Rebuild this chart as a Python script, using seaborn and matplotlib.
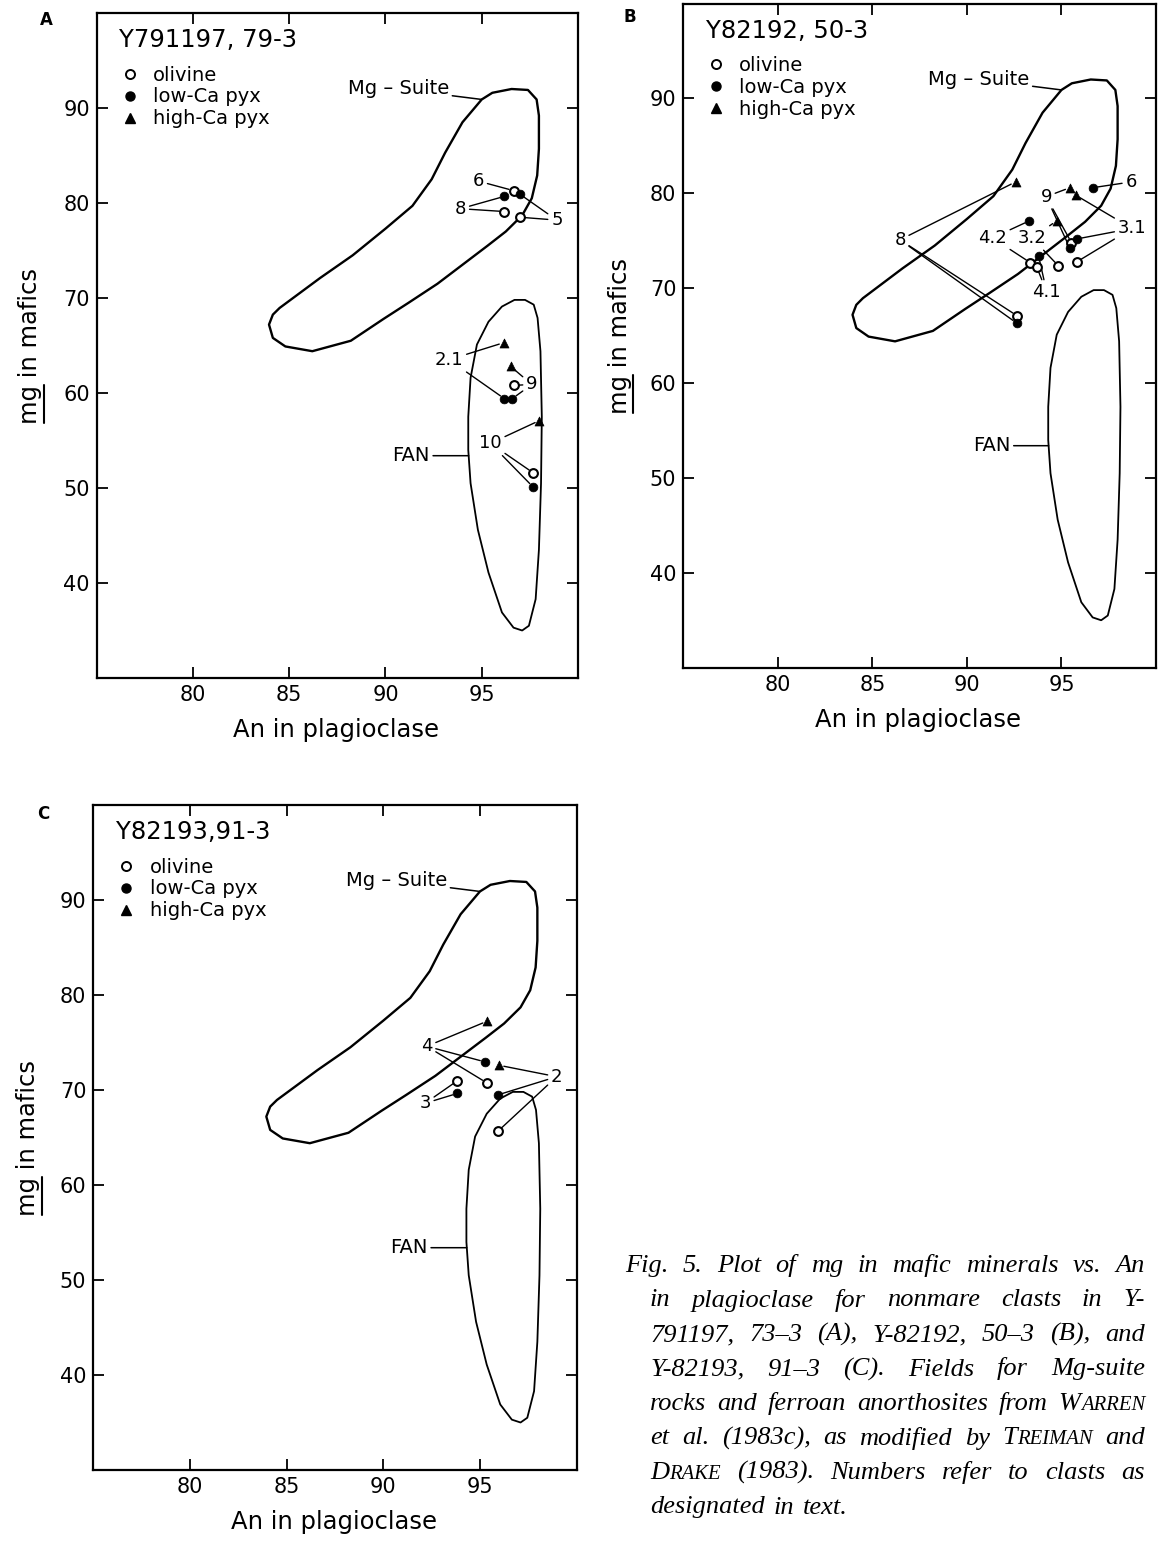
import numpy as np
import pandas as pd
import matplotlib
matplotlib.use("Agg")
import matplotlib.pyplot as plt
import seaborn as sns
from matplotlib.lines import Line2D
from matplotlib.patches import Polygon

# ------------------------------------------------------------------ data
X_TICKS = [80, 85, 90, 95]
Y_TICKS = [40, 50, 60, 70, 80, 90]
MINERALS = ["olivine", "low-Ca pyx", "high-Ca pyx"]

# field outlines (An, mg)
MG_SUITE_AN = [83.95, 84.15, 84.5, 85.6, 86.6, 88.3, 90.0, 91.4, 92.4, 93.1, 94.0, 95.0,
               95.55, 96.55, 97.4, 97.85, 97.97, 97.97, 97.88, 97.6, 97.1, 96.25, 95.3,
               94.0, 92.7, 91.2, 89.9, 88.2, 86.2, 84.8, 84.15]
MG_SUITE_MG = [67.2, 68.25, 68.95, 70.6, 72.1, 74.5, 77.3, 79.7, 82.5, 85.3, 88.5, 90.9,
               91.6, 92.0, 91.9, 90.9, 89.2, 85.7, 82.9, 80.5, 78.7, 77.0, 75.5,
               73.5, 71.5, 69.5, 67.8, 65.5, 64.4, 64.9, 65.8]
FAN_AN = [96.7, 97.25, 97.7, 97.9, 98.05, 98.12, 98.08, 97.97, 97.8, 97.45, 97.1, 96.65,
          96.05, 95.35, 94.8, 94.42, 94.3, 94.3, 94.42, 94.75, 95.35, 96.05]
FAN_MG = [69.8, 69.8, 69.3, 67.9, 64.4, 57.5, 50.5, 43.5, 38.3, 35.5, 35.0, 35.3,
          36.9, 41.1, 45.6, 50.5, 54.0, 57.5, 61.6, 65.1, 67.5, 69.1]

# Panel A  Y791197, 79-3
A_MINERAL = ["olivine", "low-Ca pyx", "low-Ca pyx", "olivine", "olivine",
             "high-Ca pyx", "low-Ca pyx", "high-Ca pyx", "olivine", "low-Ca pyx",
             "high-Ca pyx", "olivine", "low-Ca pyx"]
A_AN = [96.66, 96.18, 97.0, 96.18, 97.0, 96.15, 96.18, 96.5, 96.66, 96.58, 98.0, 97.67, 97.67]
A_MG = [81.3, 80.7, 80.9, 79.1, 78.5, 65.3, 59.4, 62.8, 60.8, 59.4, 57.1, 51.6, 50.1]
A_CLAST = ["6", "8", "5", "8", "5", "2.1", "2.1", "9", "9", "9", "10", "10", "10"]
A_LABELS = ["6", "8", "5", "2.1", "9", "10"]
A_LABEL_AN = [94.83, 93.9, 98.9, 93.3, 97.6, 95.45]
A_LABEL_MG = [82.3, 79.4, 78.2, 63.5, 60.9, 54.7]

# Panel B  Y82192, 50-3
B_MINERAL = ["high-Ca pyx", "olivine", "low-Ca pyx",
             "high-Ca pyx", "olivine", "low-Ca pyx",
             "low-Ca pyx",
             "high-Ca pyx", "low-Ca pyx", "olivine",
             "low-Ca pyx", "olivine",
             "high-Ca pyx", "olivine",
             "low-Ca pyx", "olivine"]
B_AN = [92.57, 92.65, 92.65, 95.45, 95.53, 95.45, 96.67, 95.76, 95.83, 95.83,
        93.3, 93.35, 94.75, 94.84, 93.79, 93.7]
B_MG = [81.2, 67.1, 66.3, 80.6, 74.8, 74.2, 80.6, 79.8, 75.2, 72.8,
        77.1, 72.7, 77.1, 72.35, 73.4, 72.2]
B_CLAST = ["8", "8", "8", "9", "9", "9", "6", "3.1", "3.1", "3.1",
           "4.2", "4.2", "3.2", "3.2", "4.1", "4.1"]
B_LABELS = ["8", "9", "6", "3.1", "4.2", "3.2", "4.1"]
B_LABEL_AN = [86.46, 94.19, 98.68, 98.73, 91.35, 93.44, 94.22]
B_LABEL_MG = [75.1, 79.65, 81.2, 76.3, 75.3, 75.3, 69.6]

# Panel C  Y82193, 91-3
C_MINERAL = ["high-Ca pyx", "low-Ca pyx", "olivine", "olivine", "low-Ca pyx",
             "high-Ca pyx", "low-Ca pyx", "olivine"]
C_AN = [95.38, 95.26, 95.35, 93.83, 93.83, 95.99, 95.92, 95.92]
C_MG = [77.25, 72.96, 70.76, 70.97, 69.64, 72.6, 69.48, 65.64]
C_CLAST = ["4", "4", "4", "3", "3", "2", "2", "2"]
C_LABELS = ["4", "3", "2"]
C_LABEL_AN = [92.25, 92.16, 98.97]
C_LABEL_MG = [74.6, 68.6, 71.4]

TITLES = ["Y791197, 79-3", "Y82192, 50-3", "Y82193,91-3"]
LETTERS = ["A", "B", "C"]

CAPTION = [
    "Fig. 5. Plot of mg in mafic minerals vs. An",
    "in plagioclase for nonmare clasts in Y-",
    "791197, 73\u20133 (A), Y-82192, 50\u20133 (B), and",
    "Y-82193, 91\u20133 (C). Fields for Mg-suite",
    "rocks and ferroan anorthosites from ^WARREN",
    "et al. (1983c), as modified by ^TREIMAN and",
    "^DRAKE (1983). Numbers refer to clasts as",
    "designated in text.",
]

# ------------------------------------------------------------------ style
sns.set_style("ticks", {"text.color": "black", "axes.labelcolor": "black",
                        "xtick.color": "black", "ytick.color": "black",
                        "axes.edgecolor": "black"})
plt.rcParams["font.family"] = ["DejaVu Sans"]
plt.rcParams["text.color"] = "black"
W, H = 1158, 1545
fig = plt.figure(figsize=(W / 100, H / 100), dpi=100)

# axes boxes in pixels: left, top, right, bottom
BOXES = [(96.7, 13.0, 578.0, 678.0),
         (683.3, 3.6, 1156.0, 667.7),
         (93.3, 805.0, 576.6, 1470.0)]
YLAB_X = [42.0, 632.0, 40.0]
LETTER_POS = [(46.7, 20.0), (630.0, 17.0), (43.0, 814.0)]

panels = [
    (A_MINERAL, A_AN, A_MG, A_CLAST, A_LABELS, A_LABEL_AN, A_LABEL_MG),
    (B_MINERAL, B_AN, B_MG, B_CLAST, B_LABELS, B_LABEL_AN, B_LABEL_MG),
    (C_MINERAL, C_AN, C_MG, C_CLAST, C_LABELS, C_LABEL_AN, C_LABEL_MG),
]

MARK = {
    "olivine": dict(marker="o", s=40, color="white", edgecolor="black", linewidth=1.5),
    "low-Ca pyx": dict(marker="o", s=40, color="black", edgecolor="black", linewidth=0.5),
    "high-Ca pyx": dict(marker="^", s=42, color="black", edgecolor="black", linewidth=0.5),
}

axes = []
for i, (mins, an, mg, clast, labs, lab_an, lab_mg) in enumerate(panels):
    l, t, r, b = BOXES[i]
    ax = fig.add_axes([l / W, 1 - b / H, (r - l) / W, (b - t) / H])
    axes.append(ax)
    ax.set_xlim(75, 100)
    ax.set_ylim(30, 100)
    ax.set_xticks(X_TICKS)
    ax.set_yticks(Y_TICKS)
    ax.tick_params(direction="in", length=8, width=1.3, top=True, right=True,
                   labelsize=15, pad=5, colors="black")
    for sp in ax.spines.values():
        sp.set_linewidth(1.6)
        sp.set_color("black")

    # fields
    ax.add_patch(Polygon(np.column_stack([MG_SUITE_AN, MG_SUITE_MG]), closed=True,
                         fill=False, ec="black", lw=1.7, joinstyle="round"))
    ax.add_patch(Polygon(np.column_stack([FAN_AN, FAN_MG]), closed=True,
                         fill=False, ec="black", lw=1.3, joinstyle="round"))
    ax.annotate("Mg \u2013 Suite", xy=(95.0, 90.9), xytext=(93.3, 92.0),
                ha="right", va="center", fontsize=14, color="black",
                arrowprops=dict(arrowstyle="-", color="black", lw=1.1,
                                shrinkA=0, shrinkB=0))
    ax.annotate("FAN", xy=(94.32, 53.4), xytext=(92.3, 53.4),
                ha="right", va="center", fontsize=14, color="black",
                arrowprops=dict(arrowstyle="-", color="black", lw=1.1,
                                shrinkA=0, shrinkB=0))

    df = pd.DataFrame({"An": an, "mg": mg, "mineral": mins, "clast": clast})

    # leader lines from clast labels to their points
    for lab, lx, ly in zip(labs, lab_an, lab_mg):
        sub = df[df["clast"] == lab]
        for k, (_, row) in enumerate(sub.iterrows()):
            ax.annotate(lab, xy=(row["An"], row["mg"]), xytext=(lx, ly),
                        ha="center", va="center", fontsize=13,
                        color="black" if k == 0 else (0, 0, 0, 0),
                        arrowprops=dict(arrowstyle="-", color="black", lw=1.0,
                                        shrinkA=0, shrinkB=3.5), zorder=2)

    for m in MINERALS:
        sub = df[df["mineral"] == m]
        sns.scatterplot(data=sub, x="An", y="mg", ax=ax, legend=False, zorder=4, **MARK[m])

    ax.set_xlabel("An in plagioclase", fontsize=17.5, color="black")
    ax.set_ylabel("mg in mafics", fontsize=17.5, color="black")
    ax.xaxis.set_label_coords(0.497, -40 / (b - t))
    ax.yaxis.set_label_coords((YLAB_X[i] - l) / (r - l), 0.5)

    ax.text(0.047, 0.959, TITLES[i], transform=ax.transAxes, fontsize=17.5,
            ha="left", va="center", color="black")
    handles = [Line2D([], [], ls="none", marker="o", ms=6.5, mfc="white", mec="black", mew=1.4),
               Line2D([], [], ls="none", marker="o", ms=6.5, mfc="black", mec="black"),
               Line2D([], [], ls="none", marker="^", ms=6.5, mfc="black", mec="black")]
    leg = ax.legend(handles, MINERALS, loc="upper left", bbox_to_anchor=(0.0526, 0.921),
                    frameon=False, fontsize=14, handlelength=0.8, handletextpad=0.8,
                    labelspacing=0.15, borderpad=0, borderaxespad=0, labelcolor="black")

    lx, ly = LETTER_POS[i]
    fig.text(lx / W, 1 - ly / H, LETTERS[i], fontsize=12, fontweight="bold",
             ha="center", va="center", color="black")

# ------------------------------------------------------------------ underline "mg"
fig.canvas.draw()
rend = fig.canvas.get_renderer()


def text_width(s, **kw):
    tt = fig.text(0, 0, s, **kw)
    w = tt.get_window_extent(rend).width
    tt.remove()
    return w


w_mg = text_width("mg", fontsize=17.5)
for ax in axes:
    bb = ax.yaxis.label.get_window_extent(rend)
    x = bb.x1 + 1.5
    fig.add_artist(Line2D([x / W, x / W], [(bb.y0 + 1) / H, (bb.y0 + w_mg) / H],
                          transform=fig.transFigure, color="black", lw=1.5))

# ------------------------------------------------------------------ caption
CAP_FONT = dict(family="Liberation Serif", style="italic", color="black")
CAP_SIZE = 19
SC = 0.78
X_FIRST, X_REST, X_RIGHT = 625.0, 650.0, 1145.0
BASE0, STEP = 1272.0, 34.5


def word_runs(w):
    if w.startswith("^"):
        w = w[1:]
        return [(w[0], CAP_SIZE), (w[1:], CAP_SIZE * SC)]
    return [(w, CAP_SIZE)]


space_w = text_width("a a", fontsize=CAP_SIZE, **CAP_FONT) - 2 * text_width("a", fontsize=CAP_SIZE, **CAP_FONT)
for li, line in enumerate(CAPTION):
    words = line.split(" ")
    runs = [word_runs(w) for w in words]
    widths = [sum(text_width(s, fontsize=fs, **CAP_FONT) for s, fs in rr) for rr in runs]
    x0 = X_FIRST if li == 0 else X_REST
    last = li == len(CAPTION) - 1
    if last or len(words) < 2:
        gap = space_w * 1.3
    else:
        gap = (X_RIGHT - x0 - sum(widths)) / (len(words) - 1)
    y = BASE0 + STEP * li
    x = x0
    for rr, ww in zip(runs, widths):
        xx = x
        for s, fs in rr:
            fig.text(xx / W, 1 - y / H, s, fontsize=fs, ha="left", va="baseline", **CAP_FONT)
            xx += text_width(s, fontsize=fs, **CAP_FONT)
        x += ww + gap

fig.savefig("out.png", dpi=100)
